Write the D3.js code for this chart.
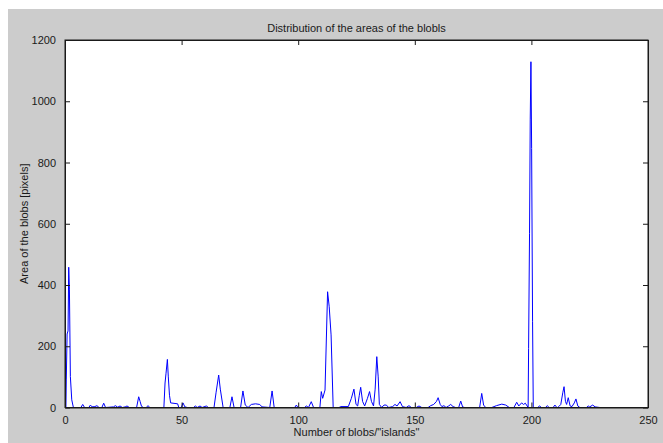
<!DOCTYPE html>
<html>
<head>
<meta charset="utf-8">
<script src="https://cdn.jsdelivr.net/npm/d3@7"></script>
<style>
    body { margin: 0; background: #fff; }
    svg text { font-family: "Liberation Sans", Arial, sans-serif; fill: #1a1a1a; }
</style>
</head>
<body>
<div id="graph"></div>
<script>
var blobIndex = [0.4, 0.55, 0.9, 1.3, 1.6, 1.9, 2.3, 2.9, 3.6,
    6.8, 7.6, 8.4, 10.2, 10.9, 11.6, 12.8, 13.7, 14.6, 15.8, 16.6, 17.4,
    20.8, 21.6, 22.6, 23.6, 24.6, 25.8, 26.6, 27.6,
    30.7, 31.6, 32.2, 32.8, 33.6, 34.8, 35.6, 36.4,
    42.4, 42.9, 43.3, 43.9, 44.3, 44.8, 45.3, 48.3, 48.8,
    49.9, 50.6, 51.4, 52.5, 55.1, 55.9, 56.7, 57.9, 58.8, 60.6, 61.5,
    63.9, 64.8, 65.9, 66.6, 67.8, 70.7, 71.6, 72.5,
    75.3, 76.3, 77.3, 78.5, 79.9, 81.7, 83.5, 84.5, 87.8, 88.8, 89.7,
    98.5, 99.2, 99.9, 102.7, 103.5, 104.4, 105.6, 106.6,
    109.3, 109.9, 110.5, 111.5, 112.6, 113.3, 114.1, 115,
    117.5, 118.3, 121.5, 122.8, 123.9, 124.8, 125.5, 126.2, 126.8, 127.6, 128.5,
    129.7, 130.6, 131.4, 132.3, 133, 133.7, 134.3, 134.8, 135.8,
    136.8, 137.8, 138.8, 140.5, 141.5, 142.4, 143.7, 144.7, 146.3, 147.5, 148.5,
    150.6, 151.8, 153, 155.7, 156.8, 158.1, 159.3, 160, 160.9, 161.6, 162.5, 163.4,
    164.5, 165.4, 166.4, 167.5, 168.8, 169.7, 170.5, 171.4,
    177.8, 178.7, 179.5, 180.4, 183, 185, 187.3, 189, 190.5,
    192.5, 193.7, 194.6, 195.8, 196.6, 197.4, 198.6, 198.8, 199.2, 199.5, 199.8, 200.1, 200.5, 200.8,
    202.7, 203.5, 204.3, 206, 206.8, 207.6, 209.3, 210.1, 210.9, 211.3, 212, 212.6,
    213.5, 214, 214.6, 215.1, 215.8, 216.6, 217.4, 218.4, 219.1, 219.9, 220.8,
    223.6, 224.4, 225, 226.3, 227.3, 229.4];

var blobArea = [0, 90, 240, 250, 458, 384, 101, 25, 0,
    0, 10, 0, 0, 8, 2, 3, 6, 0, 0, 14, 0,
    2, 6, 1, 5, 0, 2, 5, 0,
    0, 35, 20, 4, 0, 0, 6, 0,
    0, 80, 110, 157, 100, 40, 15, 12, 0,
    0, 15, 2, 0, 0, 5, 0, 5, 0, 5, 0,
    0, 50, 106, 60, 0, 0, 35, 0,
    0, 54, 8, 0, 10, 12, 10, 2, 0, 54, 0,
    0, 8, 0, 0, 5, 0, 19, 0,
    0, 52, 30, 57, 378, 329, 237, 0,
    0, 3, 3, 30, 60, 10, 5, 40, 66, 20, 5,
    30, 52, 20, 5, 60, 166, 100, 10, 0,
    8, 8, 0, 3, 10, 5, 19, 3, 0, 6, 0,
    0, 5, 0, 0, 6, 10, 20, 32, 10, 3, 6, 0,
    5, 10, 3, 0, 0, 21, 2, 0,
    0, 46, 8, 0, 0, 6, 11, 8, 0,
    0, 17, 5, 15, 10, 14, 0, 193, 569, 939, 1129, 846, 280, 0,
    0, 5, 0, 0, 6, 0, 0, 8, 0, 0, 5, 10,
    50, 68, 20, 10, 32, 5, 3, 15, 28, 5, 0,
    0, 5, 2, 8, 2, 0];

var xTicks = [0, 50, 100, 150, 200, 250];
var yTicks = [0, 200, 400, 600, 800, 1000, 1200];

var titleText = "Distribution of the areas of the blobls";
var xLabelText = "Number of blobs/\"islands\"";
var yLabelText = "Area of the blobs [pixels]";

var width = 663, height = 443;
var plot = {left: 65, top: 40, right: 648, bottom: 407.5};

var svg = d3.select("#graph").append("svg")
    .attr("width", width)
    .attr("height", height);

// grey figure background
svg.append("rect")
    .attr("x", 8).attr("y", 9)
    .attr("width", width - 8).attr("height", height - 9)
    .attr("fill", "#cccccc");

svg.append("rect")
    .attr("x", plot.left).attr("y", plot.top)
    .attr("width", plot.right - plot.left).attr("height", plot.bottom - plot.top)
    .attr("fill", "#ffffff");

var x = d3.scaleLinear().domain([0, 250]).range([plot.left, plot.right]);
var y = d3.scaleLinear().domain([0, 1200]).range([plot.bottom, plot.top]);

// data line
var points = blobIndex.map(function (d, i) { return [d, blobArea[i]]; });
var line = d3.line()
    .x(function (d) { return x(d[0]); })
    .y(function (d) { return y(d[1]); });

svg.append("path")
    .datum(points)
    .attr("d", line)
    .attr("fill", "none")
    .attr("stroke", "#0000ff")
    .attr("stroke-width", 1)
    .attr("stroke-linejoin", "round");

// axes: ticks pointing inwards, box all round
var tickLen = 5;
var fmt = d3.format("d");
svg.append("g")
    .attr("transform", "translate(0," + plot.bottom + ")")
    .call(d3.axisBottom(x).tickValues(xTicks).tickFormat(fmt).tickSizeInner(-tickLen).tickSizeOuter(0).tickPadding(tickLen + 4));
svg.append("g")
    .attr("transform", "translate(0," + plot.top + ")")
    .call(d3.axisTop(x).tickValues(xTicks).tickSizeInner(-tickLen).tickSizeOuter(0).tickFormat(""));
svg.append("g")
    .attr("transform", "translate(" + plot.left + ",0)")
    .call(d3.axisLeft(y).tickValues(yTicks).tickFormat(fmt).tickSizeInner(-tickLen).tickSizeOuter(0).tickPadding(tickLen + 4));
svg.append("g")
    .attr("transform", "translate(" + plot.right + ",0)")
    .call(d3.axisRight(y).tickValues(yTicks).tickSizeInner(-tickLen).tickSizeOuter(0).tickFormat(""));

svg.selectAll(".domain").attr("stroke", "#1a1a1a");
svg.selectAll(".tick line").attr("stroke", "#1a1a1a");
svg.selectAll(".tick text")
    .attr("font-size", 11)
    .attr("font-family", "\"Liberation Sans\", Arial, sans-serif")
    .attr("fill", "#1a1a1a");

svg.append("rect")
    .attr("x", plot.left).attr("y", plot.top)
    .attr("width", plot.right - plot.left).attr("height", plot.bottom - plot.top)
    .attr("fill", "none")
    .attr("stroke", "#1a1a1a")
    .attr("stroke-width", 1);

// titles
svg.append("text")
    .attr("x", (plot.left + plot.right) / 2)
    .attr("y", 32)
    .attr("text-anchor", "middle")
    .attr("font-size", 11)
    .text(titleText);

svg.append("text")
    .attr("x", (plot.left + plot.right) / 2)
    .attr("y", 436)
    .attr("text-anchor", "middle")
    .attr("font-size", 11)
    .text(xLabelText);

svg.append("text")
    .attr("transform", "translate(28," + (plot.top + plot.bottom) / 2 + ") rotate(-90)")
    .attr("text-anchor", "middle")
    .attr("font-size", 11)
    .text(yLabelText);
</script>
</body>
</html>
